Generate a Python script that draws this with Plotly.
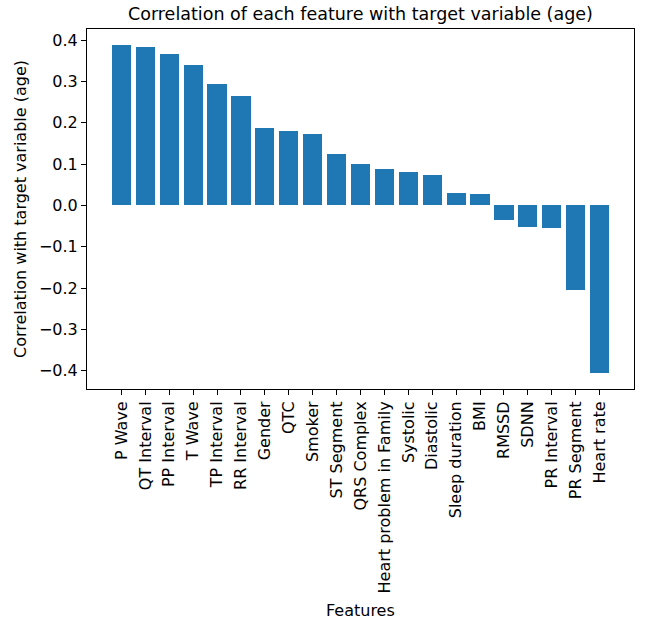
import plotly.graph_objects as go

features = ["P Wave", "QT Interval", "PP Interval", "T Wave", "TP Interval", "RR Interval",
            "Gender", "QTC", "Smoker", "ST Segment", "QRS Complex", "Heart problem in Family",
            "Systolic", "Diastolic", "Sleep duration", "BMI", "RMSSD", "SDNN", "PR Interval",
            "PR Segment", "Heart rate"]
correlations = [0.388, 0.384, 0.366, 0.340, 0.294, 0.265, 0.187, 0.181, 0.174, 0.124,
                0.100, 0.089, 0.080, 0.074, 0.031, 0.029, -0.036, -0.051, -0.055,
                -0.204, -0.405]
y_ticks = [-0.4, -0.3, -0.2, -0.1, 0.0, 0.1, 0.2, 0.3, 0.4]

font_family = "DejaVu Sans"
tick_size = 16

fig = go.Figure(go.Bar(
    x=list(range(len(features))), y=correlations,
    width=0.8, marker=dict(color="#1f77b4", line=dict(width=0)),
))

fig.update_layout(
    width=646, height=624,
    margin=dict(l=87, r=12, t=29, b=235),
    paper_bgcolor="white", plot_bgcolor="white",
    font=dict(family=font_family, size=tick_size, color="black"),
    showlegend=False,
    bargap=0,
)
fig.update_xaxes(
    range=[-1.44, 21.44],
    tickmode="array", tickvals=list(range(len(features))), ticktext=features,
    tickangle=-90, automargin=False,
    showline=True, mirror=True, linecolor="black", linewidth=1,
    ticks="outside", ticklen=5, tickcolor="black", showgrid=False, zeroline=False,
)
fig.update_yaxes(
    range=[-0.444, 0.427], automargin=False,
    tickmode="array", tickvals=y_ticks,
    ticktext=[f"{v:.1f}".replace("-", "\u2212") for v in y_ticks],
    showline=True, mirror=True, linecolor="black", linewidth=1,
    ticks="outside", ticklen=5, tickcolor="black", showgrid=False, zeroline=False,
)
fig.add_annotation(text="Correlation of each feature with target variable (age)",
                   xref="paper", yref="paper", x=0.5, y=1, yshift=3,
                   xanchor="center", yanchor="bottom", showarrow=False,
                   font=dict(size=17.5, family=font_family))
fig.add_annotation(text="Features", xref="paper", yref="paper", x=0.5, y=0,
                   yshift=-221, xanchor="center", yanchor="middle", showarrow=False,
                   font=dict(size=tick_size, family=font_family))
fig.add_annotation(text="Correlation with target variable (age)", xref="paper", yref="paper",
                   x=0, xshift=-67, y=0.5, xanchor="center", yanchor="middle",
                   textangle=-90, showarrow=False,
                   font=dict(size=tick_size, family=font_family))

fig.write_html("out.html", config={"displayModeBar": False},
               post_script="document.body.style.margin='0';document.body.style.padding='0';")
